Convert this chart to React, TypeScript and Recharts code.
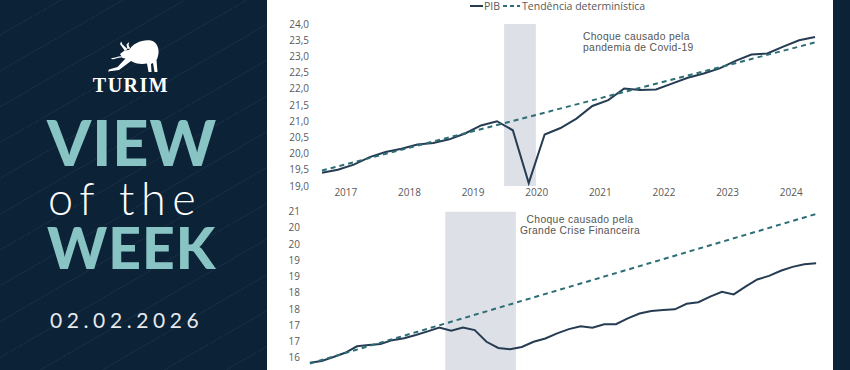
import React from 'react';
import { LineChart, Line, XAxis, YAxis, ReferenceArea } from 'recharts';

const FONT = '"Open Sans", "Noto Sans", sans-serif';
const NOTE_FONT = '"Liberation Sans", Arial, sans-serif';
const NAVY = '#0c2237';
const TEAL = '#88c4c3';
const PIB_COLOR = '#263c52';
const TREND_COLOR = '#2d6e76';
const SHADE = '#dde0e7';
const TEXT = '#595959';

// Choque da Covid-19: trimestral, 2017T1 a 2024T4
const YEARS_COVID = ['2017', '2018', '2019', '2020', '2021', '2022', '2023', '2024'];
const PIB_COVID = [
  19.41, 19.5, 19.66, 19.89, 20.05, 20.15, 20.28, 20.33,
  20.44, 20.62, 20.87, 21.0, 20.72, 19.09, 20.59, 20.79,
  21.08, 21.47, 21.65, 22.01, 21.96, 21.98, 22.16, 22.34,
  22.47, 22.63, 22.86, 23.06, 23.09, 23.3, 23.5, 23.6,
];
const TREND_COVID = [19.48, 23.43]; // início e fim da tendência determinística
const TICKS_COVID = [19, 19.5, 20, 20.5, 21, 21.5, 22, 22.5, 23, 23.5, 24];
const SHOCK_COVID = ['2020T1', '2020T2'];
const NOTE_COVID = ['Choque causado pela', 'pandemia de Covid-19'];

// Grande Crise Financeira: trimestral, 2005T1 a 2015T4
const YEARS_GFC = ['2005', '2006', '2007', '2008', '2009', '2010', '2011', '2012', '2013', '2014', '2015'];
const PIB_GFC = [
  16.34, 16.4, 16.52, 16.65, 16.85, 16.89, 16.92, 17.04,
  17.1, 17.2, 17.31, 17.43, 17.33, 17.43, 17.35, 16.99,
  16.8, 16.76, 16.83, 16.99, 17.09, 17.25, 17.38, 17.47,
  17.42, 17.53, 17.53, 17.71, 17.86, 17.94, 17.97, 17.99,
  18.16, 18.21, 18.38, 18.53, 18.45, 18.69, 18.91, 19.02,
  19.18, 19.3, 19.38, 19.41,
];
const TREND_GFC = [16.32, 20.93];
const TICKS_GFC = [16.5, 17, 17.5, 18, 18.5, 19, 19.5, 20, 20.5, 21];
const TICK_LABELS_GFC = ['16', '17', '17', '18', '18', '19', '19', '20', '20', '21'];
const SHOCK_GFC = ['2008T1', '2009T2'];
const NOTE_GFC = ['Choque causado pela', 'Grande Crise Financeira'];

function quarters(years: string[]) {
  return years.flatMap((y) => [1, 2, 3, 4].map((q) => `${y}T${q}`));
}

function buildRows(years: string[], pib: number[], trend: number[]) {
  const qs = quarters(years);
  return qs.map((q, i) => ({
    i,
    q,
    pib: pib[i],
    trend: i === 0 ? trend[0] : i === qs.length - 1 ? trend[1] : null,
  }));
}

const covidRows = buildRows(YEARS_COVID, PIB_COVID, TREND_COVID);
const gfcRows = buildRows(YEARS_GFC, PIB_GFC, TREND_GFC);
const covidQuarters = quarters(YEARS_COVID);
const gfcQuarters = quarters(YEARS_GFC);

const tickStyle = { fontSize: 10, fill: TEXT, fontFamily: FONT };

function CovidChart() {
  const yearTicks = YEARS_COVID.map((_, k) => k * 4 + 1.5);
  const x1 = covidQuarters.indexOf(SHOCK_COVID[0]) - 0.55;
  const x2 = covidQuarters.indexOf(SHOCK_COVID[1]) + 0.45;
  return (
    <LineChart
      width={566}
      height={200}
      data={covidRows}
      margin={{ top: 24, right: 10, bottom: 0, left: 0 }}
    >
      <XAxis
        dataKey="i"
        type="number"
        domain={[-0.5, covidRows.length - 0.5]}
        ticks={yearTicks}
        interval={0}
        tickFormatter={(v: number) => YEARS_COVID[Math.round((v - 1.5) / 4)]}
        axisLine={false}
        tickLine={false}
        tickSize={0}
        tickMargin={3}
        height={14}
        tick={tickStyle}
      />
      <YAxis
        domain={[19, 24]}
        ticks={TICKS_COVID}
        interval={0}
        tickFormatter={(v: number) => v.toFixed(1).replace('.', ',')}
        width={47}
        axisLine={false}
        tickLine={false}
        tickSize={3}
        tickMargin={2}
        tick={tickStyle}
      />
      <ReferenceArea x1={x1} x2={x2} y1={19} y2={24} fill={SHADE} fillOpacity={1} stroke="none" />
      <Line
        type="linear"
        dataKey="pib"
        stroke={PIB_COLOR}
        strokeWidth={2}
        dot={false}
        isAnimationActive={false}
      />
      <Line
        type="linear"
        dataKey="trend"
        stroke={TREND_COLOR}
        strokeWidth={2}
        strokeDasharray="5 4"
        dot={false}
        connectNulls
        isAnimationActive={false}
      />
    </LineChart>
  );
}

function GfcChart() {
  const x1 = gfcQuarters.indexOf(SHOCK_GFC[0]) - 0.5;
  const x2 = gfcQuarters.indexOf(SHOCK_GFC[1]) + 0.5;
  return (
    <LineChart
      width={566}
      height={200}
      data={gfcRows}
      margin={{ top: 11.7, right: 11, bottom: 9.9, left: 0 }}
    >
      <XAxis dataKey="i" type="number" domain={[-0.5, gfcRows.length - 0.5]} hide height={0} />
      <YAxis
        domain={[15.5, 21]}
        ticks={TICKS_GFC}
        interval={0}
        tickFormatter={(v: number) => TICK_LABELS_GFC[TICKS_GFC.indexOf(v)] ?? ''}
        width={37}
        axisLine={false}
        tickLine={false}
        tickSize={2}
        tickMargin={2}
        tick={tickStyle}
      />
      <ReferenceArea x1={x1} x2={x2} y1={15.5} y2={21} fill={SHADE} fillOpacity={1} stroke="none" />
      <Line
        type="linear"
        dataKey="pib"
        stroke={PIB_COLOR}
        strokeWidth={2}
        dot={false}
        isAnimationActive={false}
      />
      <Line
        type="linear"
        dataKey="trend"
        stroke={TREND_COLOR}
        strokeWidth={2}
        strokeDasharray="5 4"
        dot={false}
        connectNulls
        isAnimationActive={false}
      />
    </LineChart>
  );
}

function Bull() {
  return (
    <svg width={54} height={34} viewBox="0 0 54 34" style={{ position: 'absolute', left: 106, top: 39 }}>
      <path
        fill="#fff"
        d="M23 11 C27 4 37 0 45 1.5 C51 3 54 10 52 17 C51.5 19 51 20 50.5 21 L51.5 33 L48.5 33 L47 24 L45 25 L45.5 33 L42.5 33 L41 24.5
           C35 25.5 29 24.5 25 22 L13 31 L2 32.5 L3 30.5 L11.5 28 L19.5 19.5 L16.5 19 L14 15 L18.5 11.5 Z"
      />
      <path fill="#fff" d="M19 12 L14 5 L15.2 2.5 L16.5 5.5 L21.5 10 Z" />
      <path fill="#fff" d="M21.5 10 L20.5 5.5 L23 3 L22.6 6.2 L24.2 9.5 Z" />
      <path fill="none" stroke="#fff" strokeWidth={1.2} d="M16 18 C12 17 9 20.5 5.5 19.5" />
    </svg>
  );
}

function SidePanel() {
  return (
    <div
      style={{
        position: 'absolute',
        left: 0,
        top: 0,
        width: 267,
        height: 370,
        background: `repeating-linear-gradient(150deg, rgba(255,255,255,0) 0px, rgba(255,255,255,0) 30px, rgba(255,255,255,0.045) 30px, rgba(255,255,255,0.045) 31px), ${NAVY}`,
        fontFamily: 'Lato, sans-serif',
      }}
    >
      <Bull />
      <div
        style={{
          position: 'absolute',
          left: 0,
          width: 262,
          top: 74,
          textAlign: 'center',
          color: '#fff',
          fontFamily: '"Liberation Serif", "DejaVu Serif", serif',
          fontWeight: 700,
          fontSize: 20,
          lineHeight: '22px',
          letterSpacing: 1.5,
        }}
      >
        TURIM
      </div>
      <div
        style={{
          position: 'absolute',
          left: 47,
          top: 112,
          color: TEAL,
          fontWeight: 900,
          fontSize: 63,
          lineHeight: '60px',
          letterSpacing: 1,
        }}
      >
        VIEW
      </div>
      <div
        style={{
          position: 'absolute',
          left: 48,
          top: 178,
          color: '#fff',
          fontWeight: 300,
          fontSize: 45,
          lineHeight: '40px',
          letterSpacing: 6.5,
        }}
      >
        of the
      </div>
      <div
        style={{
          position: 'absolute',
          left: 47,
          top: 220,
          color: TEAL,
          fontWeight: 900,
          fontSize: 57,
          lineHeight: '54px',
          letterSpacing: 1,
        }}
      >
        WEEK
      </div>
      <div
        style={{
          position: 'absolute',
          left: 50,
          top: 307,
          color: '#e6e9ec',
          fontWeight: 400,
          fontSize: 21,
          lineHeight: '26px',
          letterSpacing: 4.6,
        }}
      >
        02.02.2026
      </div>
    </div>
  );
}

function LegendRow() {
  return (
    <div
      style={{
        position: 'absolute',
        left: 470,
        top: 0,
        height: 12,
        display: 'flex',
        alignItems: 'center',
        fontFamily: FONT,
        fontSize: 10.5,
        lineHeight: '12px',
        color: TEXT,
        whiteSpace: 'nowrap',
      }}
    >
      <svg width={13} height={4}>
        <line x1={0} y1={2} x2={13} y2={2} stroke={PIB_COLOR} strokeWidth={2} />
      </svg>
      <span style={{ marginLeft: 1 }}>PIB</span>
      <svg width={17} height={4} style={{ marginLeft: 3 }}>
        <line x1={0} y1={2} x2={17} y2={2} stroke={TREND_COLOR} strokeWidth={2} strokeDasharray="4 3" />
      </svg>
      <span style={{ marginLeft: 2 }}>Tendência determinística</span>
    </div>
  );
}

function Note({ lines, left, top, center }: { lines: string[]; left: number; top: number; center?: boolean }) {
  return (
    <div style={{ position: 'absolute', left, top, width: center ? 160 : undefined, textAlign: center ? 'center' : 'left' }}>
      {lines.map((t) => (
        <div
          key={t}
          style={{
            fontFamily: NOTE_FONT,
            fontSize: 10.3,
            lineHeight: '11.5px',
            height: 11.5,
            color: '#555',
            whiteSpace: 'nowrap',
            letterSpacing: 0.35,
          }}
        >
          {t}
        </div>
      ))}
    </div>
  );
}

export default function App() {
  return (
    <div
      style={{
        position: 'fixed',
        left: 0,
        top: 0,
        width: 850,
        height: 370,
        overflow: 'hidden',
        background: '#fff',
      }}
    >
      <SidePanel />
      <div style={{ position: 'absolute', left: 833, top: 0, width: 17, height: 370, background: NAVY }} />
      <div style={{ position: 'absolute', left: 267, top: 0 }}>
        <CovidChart />
      </div>
      <div style={{ position: 'absolute', left: 267, top: 200 }}>
        <GfcChart />
      </div>
      <LegendRow />
      <Note lines={NOTE_COVID} left={583} top={30.5} />
      <Note lines={NOTE_GFC} left={500} top={213.5} center />
    </div>
  );
}
